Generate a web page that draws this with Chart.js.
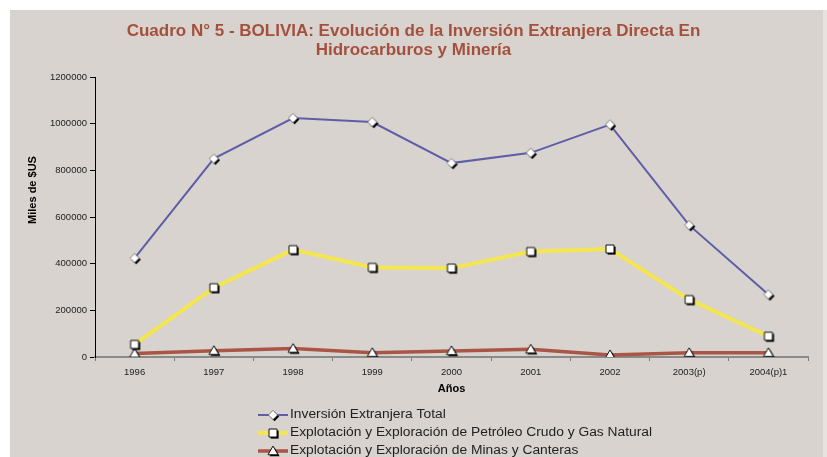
<!DOCTYPE html>
<html>
<head>
<meta charset="utf-8">
<style>
html,body{margin:0;padding:0;background:#ffffff;}
#wrap{width:827px;height:457px;position:relative;overflow:hidden;}
canvas{display:block;}
</style>
<script src="https://cdn.jsdelivr.net/npm/chart.js@4/dist/chart.umd.min.js"></script>
</head>
<body>
<div id="wrap"><canvas id="c" width="827" height="457"></canvas></div>
<script>
// ---- Data ----
const categories = ['1996', '1997', '1998', '1999', '2000', '2001', '2002', '2003(p)', '2004(p)1'];
const inversionTotal = [424000, 850000, 1024000, 1007000, 831000, 875000, 996000, 565000, 268000];
const petroleoGas = [54000, 297000, 460000, 384000, 381000, 452000, 463000, 246000, 89000];
const minasCanteras = [15000, 27000, 36000, 18000, 26000, 33000, 9000, 18000, 18000];
const seriesLabels = [
  'Inversión Extranjera Total',
  'Explotación y Exploración de Petróleo Crudo y Gas Natural',
  'Explotación y Exploración de Minas y Canteras'
];
const yTickValues = [0, 200000, 400000, 600000, 800000, 1000000, 1200000];
const titleLines = ['Cuadro N° 5 - BOLIVIA: Evolución de la Inversión Extranjera Directa En', 'Hidrocarburos y Minería'];
const yTitle = 'Miles de $US';
const xTitle = 'Años';

// ---- Marker images (style only) ----
function makeMarker(kind) {
  const s = 16, c = 8;
  const cv = document.createElement('canvas');
  cv.width = s; cv.height = s;
  const g = cv.getContext('2d');
  function shape(dx, dy) {
    g.beginPath();
    if (kind === 'diamond') {
      const r = 4.6;
      g.moveTo(c + dx, c - r + dy); g.lineTo(c + r + dx, c + dy);
      g.lineTo(c + dx, c + r + dy); g.lineTo(c - r + dx, c + dy);
    } else if (kind === 'square') {
      const h = 4;
      g.rect(c - h + dx, c - h + dy, 2 * h, 2 * h);
    } else {
      const r = 5;
      g.moveTo(c + dx, c - r + dy); g.lineTo(c + r + dx, c + r * 0.75 + dy);
      g.lineTo(c - r + dx, c + r * 0.75 + dy);
    }
    g.closePath();
  }
  shape(1.6, 1.6); g.fillStyle = '#000'; g.fill();
  shape(0, 0); g.fillStyle = '#fff'; g.fill();
  g.lineWidth = kind === 'diamond' ? 0.7 : 1;
  g.strokeStyle = kind === 'diamond' ? '#555' : '#111';
  g.stroke();
  return cv;
}
const markers = [makeMarker('diamond'), makeMarker('square'), makeMarker('triangle')];

const FONT = "'Liberation Sans', Arial, sans-serif";

const bgPlugin = {
  id: 'bg',
  beforeDraw(chart) {
    const ctx = chart.ctx;
    ctx.save();
    ctx.fillStyle = '#ffffff';
    ctx.fillRect(0, 0, chart.width, chart.height);
    ctx.fillStyle = '#D8D3CE';
    ctx.fillRect(10, 10, 813, chart.height - 10);
    ctx.fillStyle = '#E6E3E0';
    ctx.fillRect(823, 10, 4, chart.height - 10);
    ctx.restore();
  }
};

const extrasPlugin = {
  id: 'extras',
  afterDraw(chart) {
    const ctx = chart.ctx;
    const area = chart.chartArea;
    // Y axis title
    ctx.save();
    ctx.translate(33, 190);
    ctx.rotate(-Math.PI / 2);
    ctx.font = 'bold 11px ' + FONT;
    ctx.fillStyle = '#000';
    ctx.textAlign = 'center';
    ctx.textBaseline = 'middle';
    ctx.fillText(yTitle, 0, 0);
    ctx.restore();

    // Legend (vertical list)
    ctx.save();
    ctx.font = '12px ' + FONT;
    const stretch = 1.15;
    const sets = chart.data.datasets;
    let maxW = 0;
    sets.forEach(d => { maxW = Math.max(maxW, ctx.measureText(d.label).width * stretch); });
    const sample = 30, gap = 2;
    const total = sample + gap + maxW;
    const left = Math.round((area.left + area.right) / 2 - total / 2 + 4);
    const xBottom = chart.scales.x.bottom;
    sets.forEach((d, i) => {
      const y = xBottom + 16 + i * 18;
      ctx.beginPath();
      ctx.strokeStyle = d.borderColor;
      ctx.lineWidth = d.borderWidth;
      ctx.moveTo(left, y);
      ctx.lineTo(left + sample, y);
      ctx.stroke();
      const m = d.pointStyle;
      ctx.drawImage(m, left + sample / 2 - m.width / 2, y - m.height / 2);
      ctx.save();
      ctx.translate(left + sample + gap, y);
      ctx.scale(stretch, 1);
      ctx.fillStyle = '#222';
      ctx.textAlign = 'left';
      ctx.textBaseline = 'middle';
      ctx.fillText(d.label, 0, 0);
      ctx.restore();
    });
    ctx.restore();
  }
};

new Chart(document.getElementById('c'), {
  type: 'line',
  data: {
    labels: categories,
    datasets: [
      { label: seriesLabels[0], data: inversionTotal, borderColor: '#5E5EA8', borderWidth: 2,
        pointStyle: markers[0], pointRadius: 5, tension: 0, order: 1 },
      { label: seriesLabels[1], data: petroleoGas, borderColor: '#F3E64E', borderWidth: 4,
        pointStyle: markers[1], pointRadius: 5, tension: 0, order: 2 },
      { label: seriesLabels[2], data: minasCanteras, borderColor: '#A95646', borderWidth: 3.5,
        pointStyle: markers[2], pointRadius: 5, tension: 0, order: 3 }
    ]
  },
  options: {
    responsive: false,
    animation: false,
    devicePixelRatio: 1,
    layout: { padding: { top: 10, left: 10, right: 10, bottom: 58 } },
    plugins: {
      legend: { display: false },
      tooltip: { enabled: false },
      title: {
        display: true,
        text: titleLines,
        color: '#A4503C',
        font: { family: FONT, size: 17, weight: 'bold', lineHeight: '19px' },
        padding: { top: 12, bottom: 17 }
      }
    },
    scales: {
      x: {
        type: 'category',
        offset: true,
        grid: { display: true, drawOnChartArea: false, drawTicks: true, tickLength: 4, color: '#7a7a7a', offset: true },
        border: { display: true, color: '#8a8a8a', width: 2 },
        ticks: { color: '#222', font: { family: FONT, size: 9.5 }, padding: 6, maxRotation: 0, autoSkip: false },
        title: { display: true, text: xTitle, color: '#000', font: { family: FONT, size: 11, weight: 'bold' }, padding: { top: 0, bottom: 3 } },
        afterFit(scale) { scale.height = 42; }
      },
      y: {
        type: 'linear',
        min: 0,
        max: 1200000,
        afterBuildTicks(scale) { scale.ticks = yTickValues.map(v => ({ value: v })); },
        grid: { display: true, drawOnChartArea: false, drawTicks: true, tickLength: 5, color: '#000' },
        border: { display: true, color: '#000', width: 1 },
        ticks: { color: '#222', font: { family: FONT, size: 9.5 }, padding: 3, callback: v => String(v) },
        afterFit(scale) { scale.width = 85; }
      },
      yR: {
        type: 'linear',
        position: 'right',
        display: true,
        grid: { display: false, drawTicks: false },
        border: { display: false },
        ticks: { display: false },
        afterFit(scale) { scale.width = 9; }
      }
    }
  },
  plugins: [bgPlugin, extrasPlugin]
});
</script>
</body>
</html>
